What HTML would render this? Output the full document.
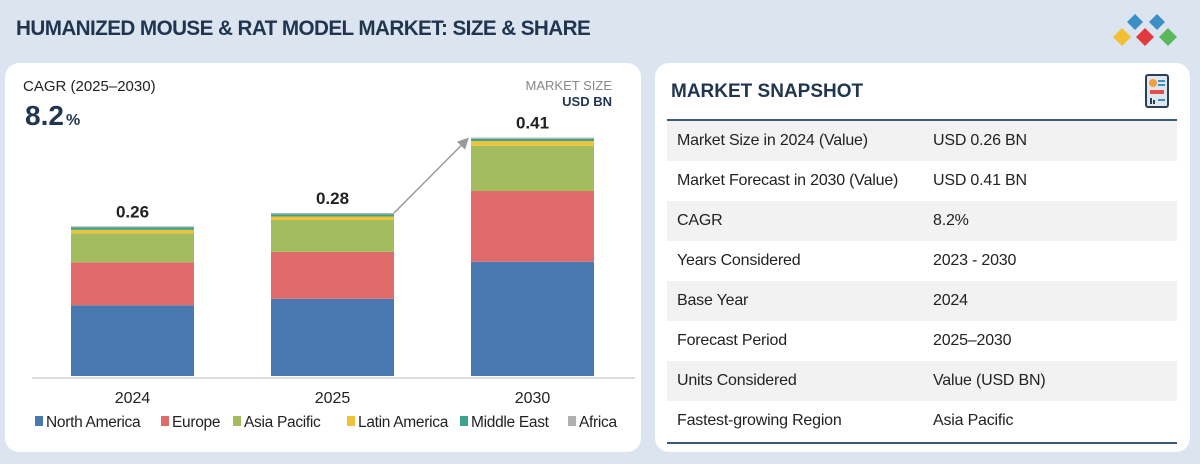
<!DOCTYPE html>
<html><head><meta charset="utf-8">
<style>
body{margin:0;width:1200px;height:464px;background:#dce5ef;font-family:"Liberation Sans",sans-serif;position:relative;overflow:hidden}
.title{position:absolute;left:16px;top:17px;font-size:21px;font-weight:bold;color:#1f3550;letter-spacing:-0.6px;transform:scaleX(0.985);transform-origin:left}
.card{position:absolute;background:#fff;border-radius:14px}
.row{position:absolute;left:12px;width:510px;height:40px;font-size:16px;color:#222}
.row span{position:absolute;top:11px;letter-spacing:-0.2px}
</style></head><body>
<div class="title">HUMANIZED MOUSE &amp; RAT MODEL MARKET: SIZE &amp; SHARE</div>
<svg style="position:absolute;left:1110px;top:14px" width="68" height="34">
<polygon points="25,0 33,8 25,16 17,8" fill="#3b8fc6"/><polygon points="47,0 55,8 47,16 39,8" fill="#3b8fc6"/>
<polygon points="12,14 21,23 12,32 3,23" fill="#f2be32"/><polygon points="35,14 44,23 35,32 26,23" fill="#e03a3e"/><polygon points="58,14 67,23 58,32 49,23" fill="#5cb85c"/>
</svg>
<div class="card" style="left:5px;top:63px;width:636px;height:389px">
<svg id="chart" width="636" height="389" style="position:absolute;left:0;top:0"></svg>
</div>
<div class="card" style="left:655px;top:63px;width:535px;height:389px">
<div style="position:absolute;left:16px;top:18px;font-size:19px;font-weight:bold;color:#1f3550">MARKET SNAPSHOT</div>
<svg style="position:absolute;left:490px;top:11px" width="24" height="34"><rect x="1" y="1" width="22" height="32" rx="2" fill="#dfe6ee" stroke="#2a3e55" stroke-width="2"/><circle cx="8" cy="9" r="4" fill="#f2a03a"/><rect x="13" y="6" width="7" height="2" fill="#3b8fc6"/><rect x="13" y="10" width="7" height="2" fill="#3b8fc6"/><rect x="5" y="16" width="14" height="4" fill="#e05050"/><rect x="5" y="24" width="2" height="6" fill="#2a3e55"/><rect x="8" y="26" width="2" height="4" fill="#2a3e55"/><rect x="13" y="25" width="7" height="2" fill="#3b8fc6"/></svg>
<div style="position:absolute;left:12px;top:56px;width:510px;height:2px;background:#3b5a78"></div>
<div id="rows"></div>
<div style="position:absolute;left:12px;top:379px;width:510px;height:2px;background:#3b5a78"></div>
</div>
<script>
const rowsData=[["Market Size in 2024 (Value)","USD 0.26 BN"],["Market Forecast in 2030 (Value)","USD 0.41 BN"],["CAGR","8.2%"],["Years Considered","2023 - 2030"],["Base Year","2024"],["Forecast Period","2025–2030"],["Units Considered","Value (USD BN)"],["Fastest-growing Region","Asia Pacific"]];
const rc=document.getElementById('rows');
rowsData.forEach((r,i)=>{const d=document.createElement('div');d.className='row';d.style.top=(58+i*40)+'px';d.style.background=i%2==0?'#f2f2f2':'#fff';


d.innerHTML='<span style="left:10px">'+r[0]+'</span><span style="left:266px">'+r[1]+'</span>';rc.appendChild(d);});
</script>
<script>
const years=["2024","2025","2030"];
const totals=["0.26","0.28","0.41"];
const seriesNames=["North America","Europe","Asia Pacific","Latin America","Middle East","Africa"];
const colors=["#4a78b0","#e06b6b","#a3bc5e","#f0c23a","#3aa58a","#b0b0b0"];
const northAmerica=[0.122,0.133,0.197];
const europe=[0.074,0.081,0.122];
const asiaPacific=[0.050,0.055,0.078];
const latinAmerica=[0.006,0.006,0.008];
const middleEast=[0.004,0.004,0.004];
const africa=[0.002,0.002,0.002];
const series=[northAmerica,europe,asiaPacific,latinAmerica,middleEast,africa];
const svg=document.getElementById('chart');const NS='http://www.w3.org/2000/svg';
const base=313,scale=580,barW=123;
const y=v=>base-v*scale;
const xBar=i=>66+i*200;
function el(t,a,txt){const e=document.createElementNS(NS,t);for(const k in a)e.setAttribute(k,a[k]);if(txt!==undefined)e.textContent=txt;svg.appendChild(e);return e;}
let t=el('text',{x:18,y:28,'font-size':15,fill:'#222'},'CAGR (2025–2030)');
t=el('text',{x:20,y:62,'font-size':28,'font-weight':'bold',fill:'#1f3550'},'8.2');
el('text',{x:61,y:62,'font-size':16,'font-weight':'bold',fill:'#1f3550'},'%');
t=el('text',{x:607,y:27,'font-size':13,fill:'#888','text-anchor':'end'},'MARKET SIZE');
el('text',{x:607,y:43,'font-size':13,'font-weight':'bold',fill:'#1f3550','text-anchor':'end'},'USD BN');
t=el('line',{x1:27,y1:315,x2:630,y2:315,stroke:'#ddd','stroke-width':2});
years.forEach((yr,i)=>{let acc=0;
series.forEach((s,k)=>{const r=el('rect',{x:xBar(i),y:y(acc+s[i]),width:barW,height:s[i]*scale,fill:colors[k]});

acc+=s[i];});
const tl=el('text',{x:xBar(i)+barW/2,y:y(acc)-9,'font-size':17,'font-weight':'bold',fill:'#222','text-anchor':'middle'},totals[i]);


const xl=el('text',{x:xBar(i)+barW/2,y:340,'font-size':16,fill:'#222','text-anchor':'middle'},yr);


});
let topB=y(series.reduce((a,s)=>a+s[1],0)),topC=y(series.reduce((a,s)=>a+s[2],0));
const ar=el('line',{x1:xBar(1)+barW,y1:topB,x2:xBar(2)-6,y2:topC+4,stroke:'#999','stroke-width':1.5});


el('polygon',{points:`${xBar(2)-2},${topC} ${xBar(2)-14},${topC+4} ${xBar(2)-6},${topC+12}`,fill:'#999'});
const legX=[30,156,228,342,455,563];
seriesNames.forEach((n,k)=>{const r=el('rect',{x:legX[k],y:353,width:8,height:10,fill:colors[k]});


const lt=el('text',{x:legX[k]+11,y:364,'font-size':15.5,fill:'#222','letter-spacing':'-0.3'},n);

});
</script>
</body></html>
